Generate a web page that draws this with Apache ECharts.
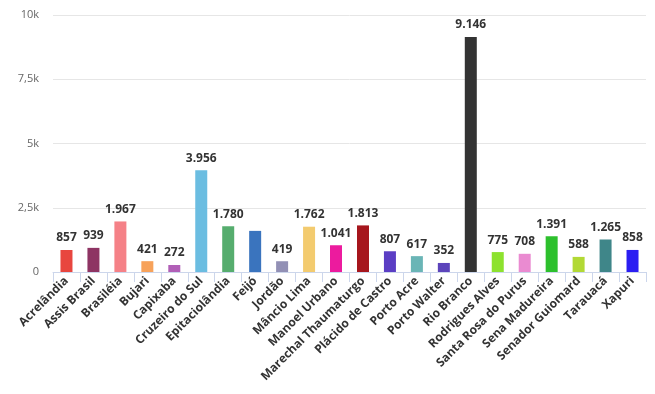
<!DOCTYPE html>
<html><head><meta charset="utf-8">
<script src="https://cdn.jsdelivr.net/npm/echarts@6/dist/echarts.min.js"></script>
<style>html,body{margin:0;padding:0;background:#fff}#c{width:655px;height:394px}</style>
</head><body><div id="c"></div>
<script>
const categories = ["Acrelândia","Assis Brasil","Brasiléia","Bujari","Capixaba","Cruzeiro do Sul","Epitaciolândia","Feijó","Jordão","Mâncio Lima","Manoel Urbano","Marechal Thaumaturgo","Plácido de Castro","Porto Acre","Porto Walter","Rio Branco","Rodrigues Alves","Santa Rosa do Purus","Sena Madureira","Senador Guiomard","Tarauacá","Xapuri"];
const values = [857,939,1967,421,272,3956,1780,1600,419,1762,1041,1813,807,617,352,9146,775,708,1391,588,1265,858];
const colors = ["#e8463f","#8e3463","#f58187","#f7a25a","#b15fb7","#6bbde1","#56ad6e","#3a74be","#9290b5","#f3cb6f","#ec1b9e","#a6161d","#5b3ec4","#6ab5b6","#5c44bb","#333333","#8de22e","#ea8bd1","#2dc02d","#b2d935","#3f8689","#2b1ef2"];
const yTicks = ["0","2,5k","5k","7,5k","10k"];
const chart = echarts.init(document.getElementById('c'), null, {renderer:'canvas'});
const fmt = v => v >= 1000 ? Math.floor(v/1000) + '.' + String(v%1000).padStart(3,'0') : String(v);
chart.setOption({
  animation:false,
  grid:{left:53,right:9,top:15,bottom:122,containLabel:false},
  xAxis:{type:'category',data:categories,
    axisLine:{lineStyle:{color:'#ccd6eb'}},
    axisTick:{show:true,length:10,lineStyle:{color:'#ccd6eb'},alignWithLabel:false},
    axisLabel:{rotate:45,interval:0,margin:7,fontFamily:'Open Sans',fontWeight:'bold',fontSize:12,color:'#333'}},
  yAxis:{type:'value',min:0,max:10000,interval:2500,
    axisLine:{show:false},axisTick:{show:false},
    splitLine:{lineStyle:{color:'#e6e6e6'}},
    axisLabel:{fontFamily:'Open Sans',fontSize:11,color:'#666',margin:14,formatter:(v,i)=>yTicks[i]}},
  series:[{type:'bar',barWidth:12,
    data:values.map((v,i)=>({value:v,itemStyle:{color:colors[i]}})),
    label:{show:true,position:'top',distance:6,fontFamily:'Open Sans',fontWeight:'bold',fontSize:12,color:'#333',formatter:p=>fmt(p.value)},
    labelLayout:{hideOverlap:true}}]
});
</script></body></html>
